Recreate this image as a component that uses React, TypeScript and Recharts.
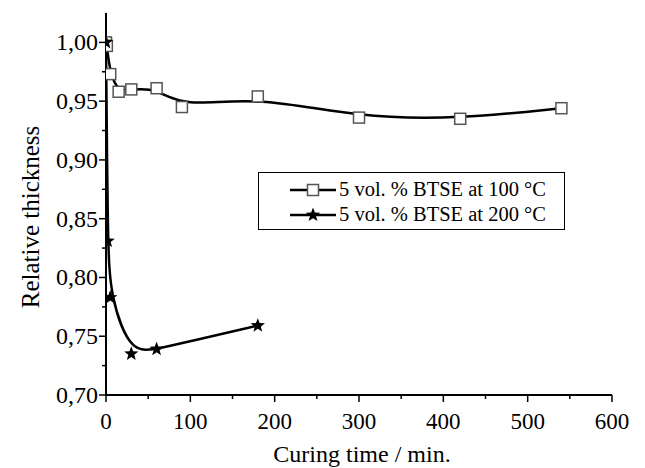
import { LineChart, Line, XAxis, YAxis, Legend, Label } from "recharts";

// Relative film thickness vs curing time, two curing temperatures.
const TIME_100 = [0, 1, 5, 15, 30, 60, 90, 180, 300, 420, 540];
const THICK_100 = [1.0, 0.997, 0.973, 0.958, 0.96, 0.961, 0.945, 0.954, 0.936, 0.935, 0.944];
const TIME_200 = [0, 2, 5, 30, 60, 180];
const THICK_200 = [1.0, 0.831, 0.783, 0.735, 0.739, 0.759];

const X_TICKS = [0, 50, 100, 150, 200, 250, 300, 350, 400, 450, 500, 550, 600];
const Y_TICKS = [0.7, 0.725, 0.75, 0.775, 0.8, 0.825, 0.85, 0.875, 0.9, 0.925, 0.95, 0.975, 1.0];

const NAME_100 = "5 vol. % BTSE at 100 °C";
const NAME_200 = "5 vol. % BTSE at 200 °C";

const FONT = "'Liberation Serif', 'Times New Roman', Times, serif";

const data100 = TIME_100.map((t, i) => ({ t, v: THICK_100[i] }));
const data200 = TIME_200.map((t, i) => ({ t, v: THICK_200[i] }));

function starPath(cx: number, cy: number, r: number) {
  const pts: string[] = [];
  for (let i = 0; i < 10; i++) {
    const rad = i % 2 === 0 ? r : r * 0.42;
    const a = -Math.PI / 2 + (i * Math.PI) / 5;
    pts.push(`${cx + rad * Math.cos(a)},${cy + rad * Math.sin(a)}`);
  }
  return `M${pts.join("L")}Z`;
}

const SquareDot = (p: any) => {
  if (p.cx == null) return <g key={p.key} />;
  return (
    <rect key={p.key} x={p.cx - 5.5} y={p.cy - 5.5} width={11} height={11}
      fill="#fff" stroke="#555" strokeWidth={1.5} />
  );
};

const StarDot = (p: any) => {
  if (p.cx == null) return <g key={p.key} />;
  return <path key={p.key} d={starPath(p.cx, p.cy, 7.5)} fill="#000" />;
};

const XTick = ({ x, y, payload }: any) => {
  const major = payload.value % 100 === 0;
  return (
    <g>
      <line x1={x} x2={x} y1={y} y2={y + (major ? 7 : 4)} stroke="#000" strokeWidth={1.5} />
      {major && (
        <text x={x} y={y + 34} textAnchor="middle" style={{ fontFamily: FONT }} fontSize={23} fill="#000">
          {payload.value}
        </text>
      )}
    </g>
  );
};

const YTick = ({ x, y, payload }: any) => {
  const v = payload.value as number;
  const major = Math.abs(v * 20 - Math.round(v * 20)) < 1e-6;
  return (
    <g>
      <line x1={x - (major ? 7 : 4)} x2={x} y1={y} y2={y} stroke="#000" strokeWidth={1.5} />
      {major && (
        <text x={x - 8} y={y} textAnchor="end" dominantBaseline="central"
          style={{ fontFamily: FONT }} fontSize={24} fill="#000">
          {v.toFixed(2).replace(".", ",")}
        </text>
      )}
    </g>
  );
};

const LegendBox = () => {
  const row = (name: string, star: boolean) => (
    <div style={{ display: "flex", alignItems: "center", height: 25 }}>
      <svg width={46} height={20}>
        <line x1={0} x2={46} y1={10} y2={10} stroke="#000" strokeWidth={2.5} />
        {star ? (
          <path d={starPath(23, 10, 7.5)} fill="#000" />
        ) : (
          <rect x={17.5} y={4.5} width={11} height={11} fill="#fff" stroke="#555" strokeWidth={1.5} />
        )}
      </svg>
      <span style={{ marginLeft: 3, whiteSpace: "nowrap" }}>{name}</span>
    </div>
  );
  return (
    <div style={{
      border: "1px solid #000", boxSizing: "border-box", width: 307, height: 58,
      padding: "4px 0 0 31px", fontFamily: FONT, fontSize: 20.5, color: "#000", background: "#fff",
    }}>
      {row(NAME_100, false)}
      {row(NAME_200, true)}
    </div>
  );
};

export default function App() {
  return (
    <div style={{ position: "absolute", left: 0, top: 0 }}>
      <LineChart width={645} height={468} margin={{ top: 13, right: 33, bottom: 0, left: 0 }}>
        <XAxis dataKey="t" type="number" domain={[0, 600]} ticks={X_TICKS} allowDataOverflow
          height={73} tickSize={0} tickMargin={0} tickLine={false} tick={<XTick />}
          axisLine={{ stroke: "#000", strokeWidth: 2 }} interval={0}>
          <Label content={() => (
            <text x={362} y={462} textAnchor="middle" style={{ fontFamily: FONT }} fontSize={24} fill="#000">
              Curing time / min.
            </text>
          )} />
        </XAxis>
        <YAxis type="number" domain={[0.7, 1.025]} ticks={Y_TICKS} allowDataOverflow
          width={106} tickSize={0} tickMargin={0} tickLine={false} tick={<YTick />}
          axisLine={{ stroke: "#000", strokeWidth: 2 }} interval={0}>
          <Label content={() => (
            <text x={30} y={217} transform="rotate(-90 30 217)" textAnchor="middle"
              dominantBaseline="central" style={{ fontFamily: FONT }} fontSize={25} fill="#000">
              Relative thickness
            </text>
          )} />
        </YAxis>
        <Legend layout="horizontal" verticalAlign="middle" align="center"
          wrapperStyle={{ left: 258, top: 172, width: 307 }} content={<LegendBox />} />
        <Line data={data100} dataKey="v" name={NAME_100} type="basis" stroke="#000"
          strokeWidth={2.5} dot={<SquareDot />} isAnimationActive={false} />
        <Line data={data200} dataKey="v" name={NAME_200} type="basis" stroke="#000"
          strokeWidth={2.5} dot={<StarDot />} isAnimationActive={false} />
      </LineChart>
    </div>
  );
}
